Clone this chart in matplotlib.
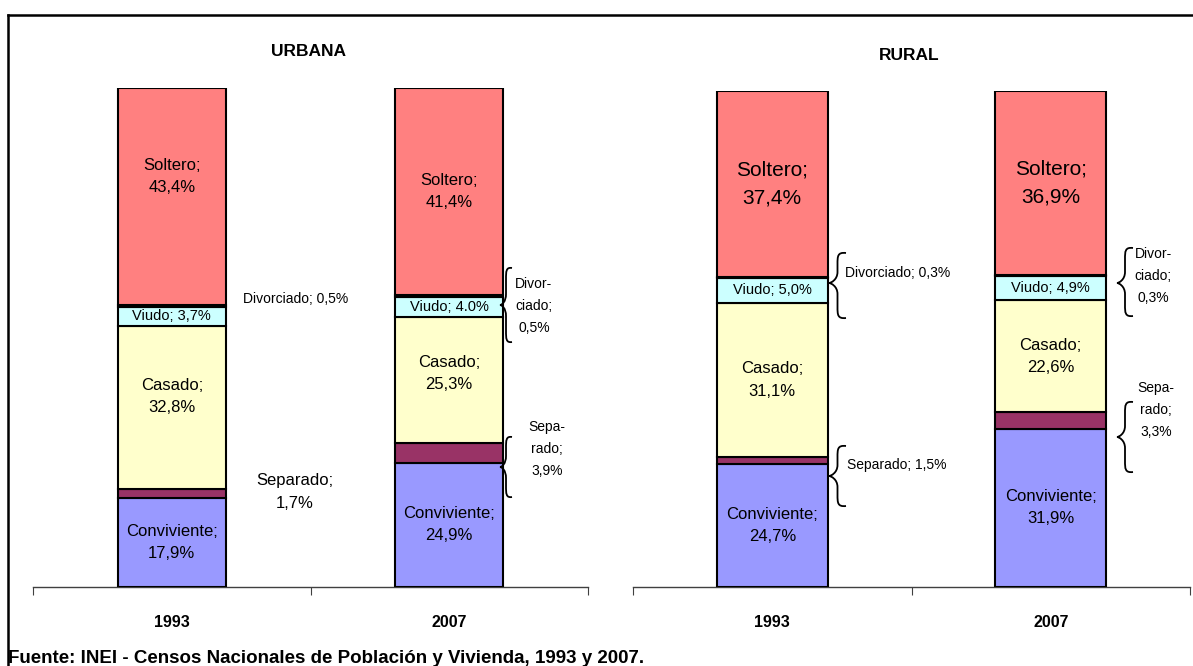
import matplotlib
matplotlib.use("Agg")
import matplotlib.pyplot as plt
import numpy as np
from matplotlib.path import Path
from matplotlib.patches import PathPatch
from matplotlib.lines import Line2D

# ---------------- data ----------------
years = ["1993", "2007"]
categories = ["Conviviente", "Separado", "Casado", "Viudo", "Divorciado", "Soltero"]
urbana_1993 = [17.9, 1.7, 32.8, 3.7, 0.5, 43.4]
urbana_2007 = [24.9, 3.9, 25.3, 4.0, 0.5, 41.4]
rural_1993 = [24.7, 1.5, 31.1, 5.0, 0.3, 37.4]
rural_2007 = [31.9, 3.3, 22.6, 4.9, 0.3, 36.9]
colors = ["#9999FF", "#993366", "#FFFFCC", "#CCFFFF", "#000000", "#FF8080"]

W, H = 1193, 666
FONT = ["Liberation Sans Narrow", "Liberation Sans", "DejaVu Sans"]
plt.rcParams["font.family"] = FONT

fig = plt.figure(figsize=(W / 100, H / 100), dpi=100)


def fx(x):
    return x / W


def fy(y):
    return 1 - y / H


def fmt(v):
    return f"{v:.1f}".replace(".", ",")


def make_axes(left, right, top, bottom):
    ax = fig.add_axes([fx(left), fy(bottom), fx(right) - fx(left), fy(top) - fy(bottom)])
    ax.set_xlim(-0.5, 1.5)
    ax.set_ylim(0, 100)
    for s in ["left", "top", "right"]:
        ax.spines[s].set_visible(False)
    ax.spines["bottom"].set_color("#404040")
    ax.spines["bottom"].set_linewidth(1.0)
    ax.set_yticks([])
    ax.set_xticks([-0.5, 0.5, 1.5])
    ax.set_xticklabels([])
    ax.tick_params(axis="x", which="major", direction="out", length=6, color="#404040")
    ax.set_xticks([0, 1], minor=True)
    ax.set_xticklabels(years, minor=True, fontsize=11.5, fontweight="bold", family=FONT)
    ax.tick_params(axis="x", which="minor", length=0, pad=20)
    ax.patch.set_alpha(0)
    return ax


def draw_stack(ax, xpos, values, width, big_soltero=False, viudo_label=None, offsets=None):
    offsets = offsets or {}
    bottom = 0
    for i, (cat, v) in enumerate(zip(categories, values)):
        ax.bar(xpos, v, width=width, bottom=bottom, color=colors[i],
               edgecolor="black", linewidth=1.5, zorder=3)
        mid = bottom + v / 2 + offsets.get(cat, 0)
        if cat == "Soltero":
            ax.text(xpos, mid, f"{cat};\n{fmt(v)}%", ha="center", va="center",
                    fontsize=15 if big_soltero else 12, linespacing=1.6, zorder=4)
        elif cat in ("Casado", "Conviviente"):
            ax.text(xpos, mid, f"{cat};\n{fmt(v)}%", ha="center", va="center",
                    fontsize=12, linespacing=1.6, zorder=4)
        elif cat == "Viudo":
            lab = viudo_label if viudo_label else f"Viudo; {fmt(v)}%"
            ax.text(xpos, mid, lab, ha="center", va="center", fontsize=10.5, zorder=4)
        bottom += v


# ---------------- axes ----------------
axU = make_axes(33, 588, 88, 587)
axR = make_axes(633, 1190, 91, 587)

draw_stack(axU, 0, urbana_1993, 0.39, offsets={"Soltero": 4.0, "Casado": 2.2})
draw_stack(axU, 1, urbana_2007, 0.39, viudo_label=f"Viudo; {urbana_2007[3]:.1f}%",
           offsets={"Casado": 1.4})
draw_stack(axR, 0, rural_1993, 0.40, big_soltero=True)
draw_stack(axR, 1, rural_2007, 0.40, big_soltero=True)

# titles
fig.text(fx(309), fy(51), "URBANA", ha="center", va="center", fontsize=12.5, fontweight="bold")
fig.text(fx(909), fy(55), "RURAL", ha="center", va="center", fontsize=12.5, fontweight="bold")


# ---------------- braces ----------------
def brace(xl, xr, yt, yb, ytip):
    """Left-pointing curly brace in pixel coords."""
    xm = (xl + xr) / 2
    r = min(11, (ytip - yt) / 2.5, (yb - ytip) / 2.5)
    verts = [
        (xr, yt),
        (xm, yt - 1), (xm, yt + r * 0.3), (xm, yt + r),
        (xm, ytip - r),
        (xm, ytip - r * 0.3), (xl + 2, ytip), (xl, ytip),
        (xl + 2, ytip), (xm, ytip + r * 0.3), (xm, ytip + r),
        (xm, yb - r),
        (xm, yb - r * 0.3), (xm, yb + 1), (xr, yb),
    ]
    codes = [Path.MOVETO,
             Path.CURVE4, Path.CURVE4, Path.CURVE4,
             Path.LINETO,
             Path.CURVE4, Path.CURVE4, Path.CURVE4,
             Path.CURVE4, Path.CURVE4, Path.CURVE4,
             Path.LINETO,
             Path.CURVE4, Path.CURVE4, Path.CURVE4]
    verts = [(fx(x), fy(y)) for x, y in verts]
    p = PathPatch(Path(verts, codes), transform=fig.transFigure, fill=False,
                  edgecolor="black", linewidth=1.3, zorder=5)
    fig.patches.append(p)


brace(500, 512, 268, 342, 305)
brace(500, 512, 437, 497, 467)
brace(829, 846, 253, 318, 283)
brace(829, 846, 446, 506, 476)
brace(1117, 1133, 248, 316, 283)
brace(1117, 1133, 402, 472, 437)

# external labels
fs = 10
fig.text(fx(296), fy(299), f"Divorciado; {fmt(urbana_1993[4])}%", ha="center", va="center", fontsize=fs)
fig.text(fx(295), fy(492), f"Separado;\n{fmt(urbana_1993[1])}%", ha="center", va="center",
         fontsize=12, linespacing=1.65)
fig.text(fx(534), fy(306), f"Divor-\nciado;\n{fmt(urbana_2007[4])}%", ha="center", va="center",
         fontsize=fs, linespacing=1.75)
fig.text(fx(547), fy(449), f"Sepa-\nrado;\n{fmt(urbana_2007[1])}%", ha="center", va="center",
         fontsize=fs, linespacing=1.75)
fig.text(fx(845), fy(273), f"Divorciado; {fmt(rural_1993[4])}%", ha="left", va="center", fontsize=fs)
fig.text(fx(847), fy(465), f"Separado; {fmt(rural_1993[1])}%", ha="left", va="center", fontsize=fs)
fig.text(fx(1153), fy(276), f"Divor-\nciado;\n{fmt(rural_2007[4])}%", ha="center", va="center",
         fontsize=fs, linespacing=1.7)
fig.text(fx(1156), fy(410), f"Sepa-\nrado;\n{fmt(rural_2007[1])}%", ha="center", va="center",
         fontsize=fs, linespacing=1.7)

# frame
fig.add_artist(Line2D([fx(8), fx(8)], [fy(15), fy(666)], transform=fig.transFigure, color="black", lw=1.8))
fig.add_artist(Line2D([fx(8), fx(1193)], [fy(15), fy(15)], transform=fig.transFigure, color="black", lw=1.8))

# footer
fig.text(fx(8), fy(650), "Fuente: INEI - Censos Nacionales de Población y Vivienda, 1993 y 2007.",
         ha="left", va="top", fontsize=13.5, fontweight="bold")

fig.savefig("out.png", dpi=100)
